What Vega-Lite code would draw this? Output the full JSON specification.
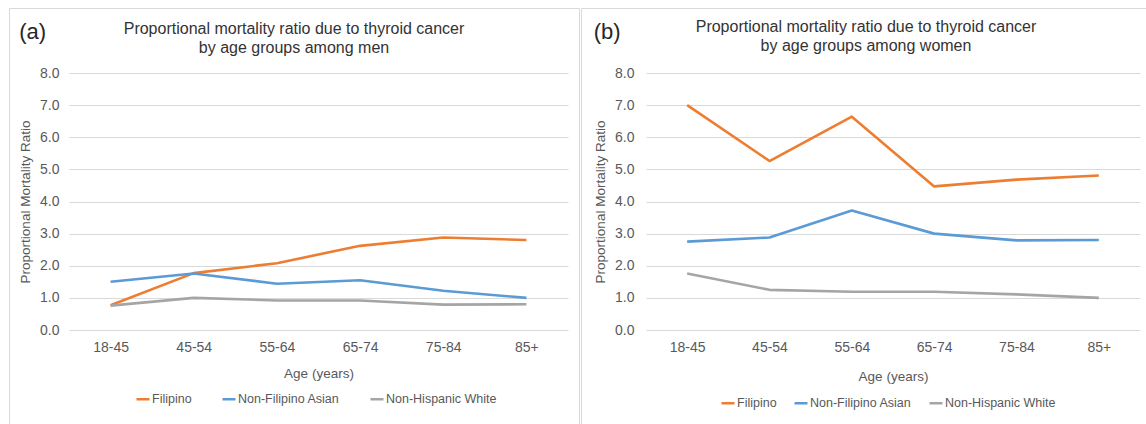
{
  "$schema": "https://vega.github.io/schema/vega-lite/v6.json",
  "padding": {"left": 8, "top": 7, "right": 0, "bottom": 0},
  "background": "#ffffff",
  "spacing": 0,
  "config": {
    "font": "Liberation Sans",
    "view": {"stroke": "#D9D9D9", "strokeWidth": 1},
    "axis": {"labelColor": "#595959", "titleColor": "#595959", "labelFontSize": 14, "titleFontSize": 13.5, "titleFontWeight": "normal", "gridColor": "#D9D9D9", "domain": false, "ticks": false, "tickSize": 0},
    "legend": {"labelColor": "#595959", "labelFontSize": 12.5},
    "title": {"color": "#333333", "fontSize": 16, "fontWeight": "normal", "lineHeight": 19}
  },
  "datasets": {
    "men": [
      {"age": "18-45", "group": "Filipino", "pmr": 0.77},
      {"age": "45-54", "group": "Filipino", "pmr": 1.77},
      {"age": "55-64", "group": "Filipino", "pmr": 2.08},
      {"age": "65-74", "group": "Filipino", "pmr": 2.62},
      {"age": "75-84", "group": "Filipino", "pmr": 2.88},
      {"age": "85+", "group": "Filipino", "pmr": 2.80},
      {"age": "18-45", "group": "Non-Filipino Asian", "pmr": 1.50},
      {"age": "45-54", "group": "Non-Filipino Asian", "pmr": 1.76},
      {"age": "55-64", "group": "Non-Filipino Asian", "pmr": 1.44},
      {"age": "65-74", "group": "Non-Filipino Asian", "pmr": 1.55},
      {"age": "75-84", "group": "Non-Filipino Asian", "pmr": 1.22},
      {"age": "85+", "group": "Non-Filipino Asian", "pmr": 1.00},
      {"age": "18-45", "group": "Non-Hispanic White", "pmr": 0.76},
      {"age": "45-54", "group": "Non-Hispanic White", "pmr": 1.00},
      {"age": "55-64", "group": "Non-Hispanic White", "pmr": 0.92},
      {"age": "65-74", "group": "Non-Hispanic White", "pmr": 0.92},
      {"age": "75-84", "group": "Non-Hispanic White", "pmr": 0.79},
      {"age": "85+", "group": "Non-Hispanic White", "pmr": 0.80}
    ],
    "women": [
      {"age": "18-45", "group": "Filipino", "pmr": 7.00},
      {"age": "45-54", "group": "Filipino", "pmr": 5.26},
      {"age": "55-64", "group": "Filipino", "pmr": 6.64},
      {"age": "65-74", "group": "Filipino", "pmr": 4.47},
      {"age": "75-84", "group": "Filipino", "pmr": 4.68},
      {"age": "85+", "group": "Filipino", "pmr": 4.81},
      {"age": "18-45", "group": "Non-Filipino Asian", "pmr": 2.75},
      {"age": "45-54", "group": "Non-Filipino Asian", "pmr": 2.88},
      {"age": "55-64", "group": "Non-Filipino Asian", "pmr": 3.72},
      {"age": "65-74", "group": "Non-Filipino Asian", "pmr": 3.00},
      {"age": "75-84", "group": "Non-Filipino Asian", "pmr": 2.79},
      {"age": "85+", "group": "Non-Filipino Asian", "pmr": 2.80},
      {"age": "18-45", "group": "Non-Hispanic White", "pmr": 1.76},
      {"age": "45-54", "group": "Non-Hispanic White", "pmr": 1.25},
      {"age": "55-64", "group": "Non-Hispanic White", "pmr": 1.19},
      {"age": "65-74", "group": "Non-Hispanic White", "pmr": 1.19},
      {"age": "75-84", "group": "Non-Hispanic White", "pmr": 1.11},
      {"age": "85+", "group": "Non-Hispanic White", "pmr": 1.00}
    ]
  },
  "hconcat": [
    {
      "width": 570,
      "height": 417,
      "title": {"text": ["Proportional mortality ratio due to thyroid cancer", "by age groups among men"], "anchor": "middle", "frame": "group", "offset": -48},
      "layer": [
        {
          "data": {"name": "men"},
          "mark": {"type": "line", "strokeWidth": 2.6, "strokeJoin": "round"},
          "encoding": {
            "x": {"field": "age", "type": "ordinal", "sort": null,
              "scale": {"type": "point", "padding": 0.5, "range": [60, 559]},
              "axis": {"title": "Age (years)", "labelAngle": 0, "offset": -95, "labelPadding": 10, "titlePadding": 12}},
            "y": {"field": "pmr", "type": "quantitative",
              "scale": {"domain": [0, 8], "range": [322, 65], "nice": false},
              "axis": {"title": "Proportional Mortality Ratio", "values": [0, 1, 2, 3, 4, 5, 6, 7, 8], "format": ".1f", "offset": -52, "labelPadding": 2, "titlePadding": 7}},
            "color": {"field": "group", "type": "nominal",
              "scale": {"domain": ["Filipino", "Non-Filipino Asian", "Non-Hispanic White"], "range": ["#ED7D31", "#5B9BD5", "#A5A5A5"]},
              "legend": {"title": null, "orient": "none", "direction": "horizontal", "legendX": 126, "legendY": 383, "symbolType": "stroke", "symbolSize": 169, "symbolStrokeWidth": 2.5, "labelOffset": 1, "columnPadding": 25}}
          }
        },
        {
          "data": {"values": [{"label": "(a)"}]},
          "mark": {"type": "text", "fontSize": 22, "color": "#262626", "align": "center", "baseline": "middle", "dx": -78, "dy": -9},
          "encoding": {
            "x": {"datum": "18-45", "type": "ordinal"},
            "y": {"datum": 9, "type": "quantitative"},
            "text": {"field": "label"}
          }
        }
      ]
    },
    {
      "width": 570,
      "height": 417,
      "title": {"text": ["Proportional mortality ratio due to thyroid cancer", "by age groups among women"], "anchor": "middle", "frame": "group", "offset": -46},
      "layer": [
        {
          "data": {"name": "women"},
          "mark": {"type": "line", "strokeWidth": 2.6, "strokeJoin": "round"},
          "encoding": {
            "x": {"field": "age", "type": "ordinal", "sort": null,
              "scale": {"type": "point", "padding": 0.5, "range": [65, 559]},
              "axis": {"title": "Age (years)", "labelAngle": 0, "offset": -95, "labelPadding": 10, "titlePadding": 15}},
            "y": {"field": "pmr", "type": "quantitative",
              "scale": {"domain": [0, 8], "range": [322, 65], "nice": false},
              "axis": {"title": "Proportional Mortality Ratio", "values": [0, 1, 2, 3, 4, 5, 6, 7, 8], "format": ".1f", "offset": -55, "labelPadding": 2, "titlePadding": 7}},
            "color": {"field": "group", "type": "nominal",
              "scale": {"domain": ["Filipino", "Non-Filipino Asian", "Non-Hispanic White"], "range": ["#ED7D31", "#5B9BD5", "#A5A5A5"]},
              "legend": {"title": null, "orient": "none", "direction": "horizontal", "legendX": 139, "legendY": 387, "symbolType": "stroke", "symbolSize": 169, "symbolStrokeWidth": 2.5, "labelOffset": 1, "columnPadding": 12}}
          }
        },
        {
          "data": {"values": [{"label": "(b)"}]},
          "mark": {"type": "text", "fontSize": 22, "color": "#262626", "align": "center", "baseline": "middle", "dx": -80, "dy": -9},
          "encoding": {
            "x": {"datum": "18-45", "type": "ordinal"},
            "y": {"datum": 9, "type": "quantitative"},
            "text": {"field": "label"}
          }
        }
      ]
    }
  ],
  "resolve": {"scale": {"x": "independent", "y": "independent", "color": "independent"}, "legend": {"color": "independent"}}
}
